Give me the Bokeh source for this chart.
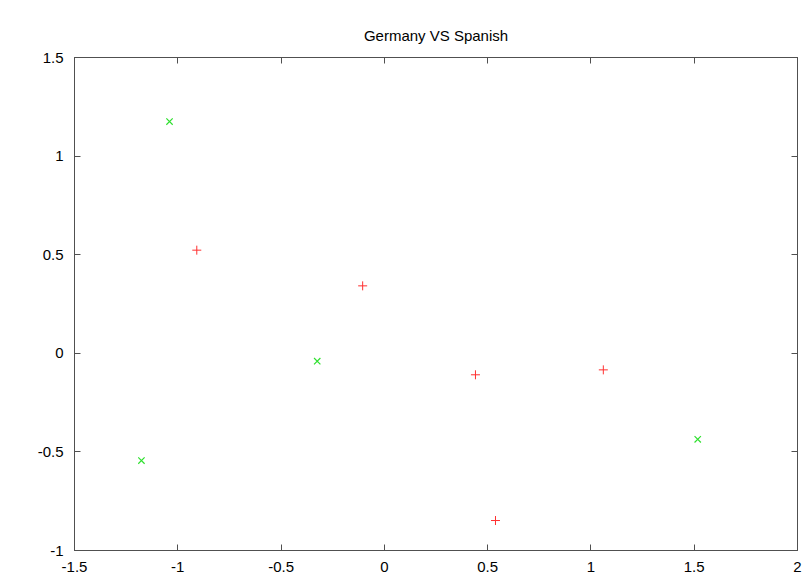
from bokeh.plotting import figure
from bokeh.models import LinearAxis, FixedTicker, Range1d, CustomJSTickFormatter
from bokeh.embed import file_html
from bokeh.resources import INLINE

title = "Germany VS Spanish"
germany_x = [-0.908, -0.105, 0.441, 1.060, 0.538]
germany_y = [0.523, 0.342, -0.109, -0.084, -0.848]
spanish_x = [-1.040, -1.176, -0.325, 1.517]
spanish_y = [1.175, -0.544, -0.040, -0.436]
x_ticks = [-1.5, -1, -0.5, 0, 0.5, 1, 1.5, 2]
x_tick_labels = ["-1.5", "-1", "-0.5", "0", "0.5", "1", "1.5", "2"]
y_ticks = [-1, -0.5, 0, 0.5, 1, 1.5]
y_tick_labels = ["-1", "-0.5", "0", "0.5", "1", "1.5"]

FONT = "Liberation Sans"
FRAME = "#505050"

p = figure(width=812, height=578, output_backend="svg", toolbar_location=None,
           x_range=Range1d(-1.5, 2), y_range=Range1d(-1, 1.5),
           min_border_left=74, min_border_right=15, min_border_top=57, min_border_bottom=28,
           x_axis_location=None, y_axis_location=None)
p.title.text = title
p.title.align = "center"
p.title.text_font = FONT
p.title.text_font_size = "15px"
p.title.text_font_style = "normal"
p.title.text_color = "#000000"
p.title.standoff = 27
p.grid.visible = False
p.outline_line_color = FRAME
p.outline_line_width = 1
p.background_fill_color = "white"
p.border_fill_color = "white"

def mk_axis(ticks, labels, standoff):
    ax = LinearAxis(ticker=FixedTicker(ticks=ticks))
    ax.major_tick_in = 6
    ax.major_tick_out = 0
    ax.minor_tick_in = 0
    ax.minor_tick_out = 0
    ax.axis_line_color = FRAME
    ax.major_tick_line_color = FRAME
    ax.major_label_text_font = FONT
    ax.major_label_text_font_size = "15px"
    ax.major_label_text_color = "#000000"
    ax.major_label_standoff = standoff
    if labels is None:
        ax.formatter = CustomJSTickFormatter(code="return ''")
    else:
        ax.major_label_overrides = {t: s for t, s in zip(ticks, labels)}
    return ax

p.add_layout(mk_axis(x_ticks, x_tick_labels, 11), "below")
p.add_layout(mk_axis(y_ticks, y_tick_labels, 11), "left")
p.add_layout(mk_axis(x_ticks, None, 0), "above")
p.add_layout(mk_axis(y_ticks, None, 0), "right")

p.scatter(germany_x, germany_y, marker="cross", size=9, line_color="#ff3030", line_width=1)
p.scatter(spanish_x, spanish_y, marker="x", size=9, line_color="#30e030", line_width=1.2)

open("out.html", "w").write(file_html(p, INLINE))
